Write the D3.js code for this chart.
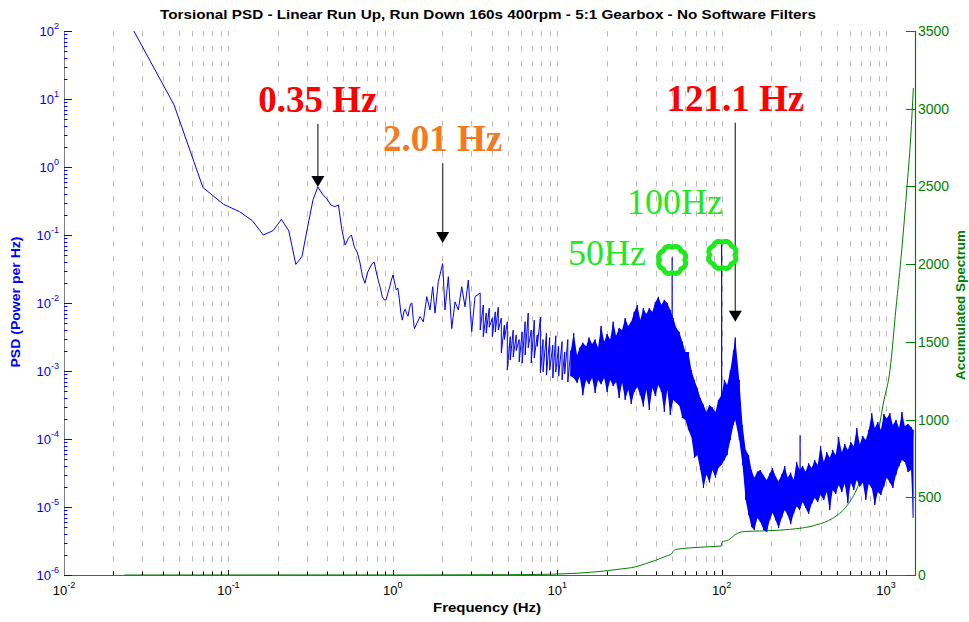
<!DOCTYPE html>
<html>
<head>
<meta charset="utf-8">
<script src="https://cdn.jsdelivr.net/npm/d3@7"></script>
<style>
  body { margin: 0; background: #fff; }
  svg { display: block; }
</style>
</head>
<body>
<svg id="chart" width="969" height="622"></svg>
<script>
// ---------------- data ----------------
// Resolved low-frequency part of the torsional PSD (Hz, power per Hz)
const lowFreq = [0.0233,0.0467,0.070,0.0933,0.117,0.140,0.163,0.187,0.210,0.233,0.257,0.280,0.303,0.327,0.350,0.373,0.397,0.420,0.443,0.467,0.490,0.513,0.537,0.560,0.583,0.607,0.630,0.653,0.677,0.700,0.723,0.747,0.770,0.793,0.817,0.840,0.863,0.887,0.910,0.933,0.957,0.980,1.003,1.027,1.050,1.073,1.097,1.120,1.143,1.167,1.190,1.213,1.237,1.260,1.283,1.307,1.330,1.353,1.377,
  1.464,1.533,1.608,1.684,1.748,1.806,1.891,2.01,2.077,2.176,2.282,2.389,2.503,2.625,2.750,2.879,3.019,3.162];
const lowPsd = [180,8.2,0.50,0.283,0.220,0.162,0.100,0.116,0.170,0.115,0.037,0.048,0.13,0.33,0.51,0.40,0.34,0.276,0.261,0.276,0.119,0.071,0.09,0.100,0.067,0.056,0.040,0.025,0.0195,0.0276,0.0327,0.0375,0.040,0.0286,0.0211,0.0166,0.0123,0.0111,0.0111,0.0140,0.0172,0.0218,0.0258,0.0195,0.0155,0.0166,0.0111,0.0071,0.0056,0.0074,0.0081,0.0070,0.0064,0.0081,0.0097,0.0100,0.0059,0.0042,0.0046,
  0.0063,0.0053,0.0124,0.0079,0.0174,0.0071,0.0206,0.038,0.0079,0.0244,0.0042,0.0104,0.0079,0.0174,0.0088,0.0218,0.0038,0.0124];

// Dense part of the spectrum: highest and lowest PSD within each narrow band
const bandFreq = [3.4,3.55,3.7,3.86,4.03,4.2,4.38,4.57,4.77,4.97,5.18,5.4,5.63,5.87,6.12,6.38,6.66,6.95,7.25,7.56,
  7.9,8.2,8.6,9.0,9.4,9.8,10.2,10.7,11.1,11.6,12.1,12.6,13.2,13.7,14.3,15.0,15.6,16.3,17.0,17.7,18.5,19.3,20.1,21.0,21.9,22.8,23.8,24.8,25.9,27.0,28.2,29.4,30.7,32.0,33.4,34.8,36.3,37.9,39.5,41.2,43.0,44.8,46.7,48.7,50.8,53.0,55.3,57.7,60.2,62.8,65.5,68.3,71.2,74.3,77.5,80.8,84.3,87.9,91.7,95.6,99.7,
  104,108,113,118,121,128,134,140,146,152,158,165,172,180,188,196,204,213,222,232,242,252,263,274,286,298,311,324,338,353,368,384,400,418,436,454,474,494,515,538,561,585,610,636,664,692,722,753,785,819,854,891,930,970,
  1010,1055,1100,1150,1200,1250,1300,1360,1420,1460];
const bandMax = [1.40e-2,9.35e-3,7.1e-3,8.4e-3,6.0e-3,7.4e-3,8.7e-3,6.0e-3,4.75e-3,5.3e-3,3.2e-3,4.0e-3,3.4e-3,2.9e-3,3.75e-3,5.3e-3,7.1e-3,4.0e-3,5.6e-3,3.4e-3,
  6.2e-3,2.9e-3,3.6e-3,3.1e-3,2.4e-3,3.3e-3,2.3e-3,2.7e-3,1.9e-3,2.9e-3,2.0e-3,3.6e-3,1.7e-3,2.2e-3,2.6e-3,2.3e-3,3.1e-3,2.5e-3,2.9e-3,2.2e-3,4.6e-3,2.7e-3,3.5e-3,2.9e-3,5.3e-3,3.3e-3,4.3e-3,4.0e-3,6.0e-3,4.6e-3,5.3e-3,7.4e-3,9.35e-3,5.6e-3,8.4e-3,6.9e-3,8.4e-3,7.4e-3,1.03e-2,1.23e-2,9.4e-3,1.11e-2,1.0e-2,7.9e-3,6.0e-3,4.3e-3,3.75e-3,2.7e-3,1.9e-3,1.9e-3,1.03e-3,7.4e-4,5.6e-4,4.0e-4,3.2e-4,2.5e-4,3.16e-4,2.9e-4,2.5e-4,3.75e-4,4.4e-4,
  7.4e-4,6.2e-4,1.03e-3,2.0e-3,3.1e-3,7.4e-4,1.6e-4,6.9e-5,5.8e-5,3.5e-5,2.7e-5,3.3e-5,3.5e-5,2.9e-5,2.5e-5,3.1e-5,3.75e-5,2.8e-5,2.4e-5,3.0e-5,4.0e-5,2.7e-5,3.2e-5,2.5e-5,4.6e-5,3.5e-5,4.0e-5,3.3e-5,4.4e-5,3.75e-5,4.9e-5,4.15e-5,7.9e-5,4.6e-5,6.4e-5,5.3e-5,6.9e-5,5.8e-5,1.07e-4,6.4e-5,8.4e-5,6.9e-5,9.0e-5,7.9e-5,1.45e-4,8.4e-5,1.1e-4,9.7e-5,1.36e-4,2.4e-4,1.45e-4,1.78e-4,1.36e-4,2.33e-4,
  2.0e-4,2.4e-4,1.6e-4,1.9e-4,1.45e-4,2.5e-4,1.55e-4,1.66e-4,1.5e-4,1.36e-4];
const bandMin = [4.0e-3,3.2e-3,3.6e-3,4.4e-3,3.2e-3,3.75e-3,4.0e-3,1.84e-3,2.9e-3,1.03e-3,1.45e-3,1.6e-3,2.0e-3,1.36e-3,1.31e-3,1.72e-3,2.2e-3,1.31e-3,1.55e-3,2.3e-3,
  9.4e-4,9.7e-4,8.7e-4,1.03e-3,7.9e-4,9.7e-4,8.4e-4,7.4e-4,9.0e-4,6.9e-4,8.4e-4,7.9e-4,6.7e-4,8.2e-4,4.4e-4,7.4e-4,6.4e-4,7.9e-4,4.75e-4,7.4e-4,6.4e-4,7.9e-4,4.9e-4,7.4e-4,6.0e-4,6.9e-4,4.0e-4,6.7e-4,3.75e-4,5.3e-4,3.27e-4,4.9e-4,5.8e-4,4.4e-4,3.0e-4,5.3e-4,2.67e-4,5.6e-4,4.3e-4,6.2e-4,4.9e-4,2.5e-4,5.3e-4,2.26e-4,3.75e-4,3.4e-4,3.1e-4,2.04e-4,1.9e-4,1.36e-4,1.07e-4,5.3e-5,5.8e-5,3.5e-5,1.9e-5,3.0e-5,2.3e-5,3.5e-5,2.7e-5,3.75e-5,4.15e-5,
  4.9e-5,5.8e-5,9.7e-5,1.6e-4,1.9e-4,9.7e-5,4.15e-5,1.27e-5,7.6e-6,5.1e-6,4.6e-6,6.9e-6,6.0e-6,4.6e-6,4.3e-6,6.4e-6,8.2e-6,6.4e-6,4.9e-6,6.9e-6,9.0e-6,7.6e-6,5.6e-6,7.9e-6,1.03e-5,9.0e-6,1.18e-5,9.7e-6,7.9e-6,1.11e-5,1.36e-5,1.18e-5,1.5e-5,1.27e-5,1.66e-5,9.0e-6,1.78e-5,1.55e-5,2.1e-5,1.66e-5,2.2e-5,1.14e-5,2.3e-5,1.78e-5,2.5e-5,2.0e-5,2.3e-5,1.27e-5,2.2e-5,1.9e-5,1.07e-5,1.66e-5,1.5e-5,2.0e-5,
  2.7e-5,2.3e-5,1.9e-5,3.0e-5,4.0e-5,4.9e-5,4.6e-5,3.27e-5,3.5e-5,6.9e-6];

// Narrow line components (mains harmonics and 300 Hz)
const spikeFreq = [50, 100, 300];
const spikePeak = [0.047, 0.076, 1.14e-4];
const spikeBase = [4.1e-4, 4.2e-5, 9.7e-6];

// Accumulated spectrum (right axis)
const accFreq = [0.0233,1.3,5,10,17.4,23.7,30,35,40,46,49.5,50.5,53,63.7,84,99.5,100.5,110,121,138,170,297,376,474,572,660,720,800,900,963,1057,1150,1246,1336,1413,1466];
const accValue = [0,0.5,2,6,21,37,53,75,96,122,135,150,165,174,182,187,212,225,260,280,283,300,322,365,439,547,654,804,933,1105,1319,1720,2091,2477,2818,3133];

// Annotated peaks
const peakFreq = [0.35, 2.01, 121.1];
const peakText = ["0.35 Hz", "2.01 Hz", "121.1 Hz"];
const peakTip = [0.51, 0.076, 0.0053];

// Circled mains components
const markFreq = [50, 101];
const markPsd = [0.043, 0.051];
const markText = ["50Hz", "100Hz"];

// Axis ticks
const xDecades = [0.01, 0.1, 1, 10, 100, 1000];
const yDecades = [1e-6, 1e-5, 1e-4, 1e-3, 1e-2, 1e-1, 1, 10, 100];
const rightTicks = [0, 500, 1000, 1500, 2000, 2500, 3000, 3500];

// ---------------- layout ----------------
const L = 64, R = 915, T = 31, B = 575;
const BLUE = "#0000ff", GREEN = "#008000";
const SANS = "'Liberation Sans', Arial, Helvetica, sans-serif";
const SERIF = "'Liberation Serif', 'Times New Roman', serif";
const FILL_FROM = 12;   // the trace is solid enough to shade from here up

const svg = d3.select("#chart");
const x = d3.scaleLog().domain([0.01, 1500]).range([L, R]);
const yL = d3.scaleLog().domain([1e-6, 1e2]).range([B, T]);
const yR = d3.scaleLinear().domain([0, 3500]).range([B, T]);

svg.append("defs").append("clipPath").attr("id", "plotArea")
  .append("rect").attr("x", L).attr("y", T).attr("width", R - L).attr("height", B - T);

const isDecade = v => Math.abs(Math.log10(v) - Math.round(Math.log10(v))) < 1e-6;
const px = v => Math.round(v) + 0.5;

// vertical dashed grid at every log tick
const xTicks = x.ticks().filter(v => v > 0.0100001 && v < 1500);
svg.append("g").selectAll("line").data(xTicks).join("line")
  .attr("x1", d => px(x(d))).attr("x2", d => px(x(d)))
  .attr("y1", T).attr("y2", B)
  .attr("stroke", "#bcbcbc").attr("stroke-width", 1)
  .attr("stroke-dasharray", "5.5,9.5");

// ---------------- series ----------------
const plot = svg.append("g").attr("clip-path", "url(#plotArea)");

// accumulated spectrum
plot.append("path")
  .attr("d", d3.line().x(d => x(d[0])).y(d => yR(d[1])).curve(d3.curveMonotoneX)(accFreq.map((f, i) => [f, accValue[i]])))
  .attr("fill", "none").attr("stroke", GREEN).attr("stroke-width", 1);

// shaded body of the dense trace
const bands = bandFreq.map((f, i) => ({ f, hi: bandMax[i], lo: bandMin[i] }));
plot.append("path")
  .attr("d", d3.area().x(d => x(d.f)).y0(d => yL(d.lo)).y1(d => yL(d.hi))(bands.filter(b => b.f >= FILL_FROM)))
  .attr("fill", BLUE).attr("stroke", "none");

// PSD trace
const trace = lowFreq.map((f, i) => [f, lowPsd[i]]);
bands.forEach(b => { trace.push([b.f, b.hi]); trace.push([b.f, b.lo]); });
plot.append("path")
  .attr("d", d3.line().x(d => x(d[0])).y(d => yL(d[1]))(trace))
  .attr("fill", "none").attr("stroke", BLUE).attr("stroke-width", 1)
  .attr("stroke-linejoin", "round");

plot.append("g").selectAll("line").data(spikeFreq).join("line")
  .attr("x1", d => x(d)).attr("x2", d => x(d))
  .attr("y1", (d, i) => yL(spikePeak[i])).attr("y2", (d, i) => yL(spikeBase[i]))
  .attr("stroke", BLUE).attr("stroke-width", 1.2);

// ---------------- axes ----------------
// bottom axis
const gx = svg.append("g");
gx.append("line").attr("x1", L).attr("x2", R).attr("y1", B + 0.5).attr("y2", B + 0.5)
  .attr("stroke", "#5a5a5a").attr("stroke-width", 1.2);
gx.selectAll("line.tk").data(xTicks).join("line").attr("class", "tk")
  .attr("x1", d => px(x(d))).attr("x2", d => px(x(d)))
  .attr("y1", B).attr("y2", d => B - (isDecade(d) ? 5 : 3.5))
  .attr("stroke", "#000").attr("stroke-width", 1);
xDecades.forEach(v => {
  const t = gx.append("text").attr("x", x(v)).attr("y", B + 20)
    .attr("text-anchor", "middle").attr("fill", "#000")
    .style("font-family", SANS).style("font-size", "13px");
  t.append("tspan").text("10");
  t.append("tspan").attr("dy", -7).style("font-size", "9px").text(String(Math.round(Math.log10(v))));
});
svg.append("text").attr("x", 487).attr("y", 612).attr("text-anchor", "middle")
  .attr("textLength", 108).attr("lengthAdjust", "spacingAndGlyphs")
  .style("font-family", SANS).style("font-size", "13.5px").style("font-weight", "bold")
  .text("Frequency (Hz)");

// left axis
const gy = svg.append("g");
gy.append("line").attr("x1", L + 0.5).attr("x2", L + 0.5).attr("y1", T).attr("y2", B + 1)
  .attr("stroke", "#7a7a9a").attr("stroke-width", 1);
const yTicks = yL.ticks().filter(v => v >= 1e-6 * 0.999 && v <= 100.001);
gy.selectAll("line.tk").data(yTicks).join("line").attr("class", "tk")
  .attr("x1", L).attr("x2", d => L + (isDecade(d) ? 8 : 3.5))
  .attr("y1", d => px(yL(d))).attr("y2", d => px(yL(d)))
  .attr("stroke", BLUE).attr("stroke-width", 1);
yDecades.forEach(v => {
  const t = gy.append("text").attr("x", 59).attr("y", yL(v) + 4.5)
    .attr("text-anchor", "end").attr("fill", BLUE)
    .style("font-family", SANS).style("font-size", "13px");
  t.append("tspan").text("10");
  t.append("tspan").attr("dy", -7).style("font-size", "9px").text(String(Math.round(Math.log10(v))));
});
svg.append("text").attr("transform", "translate(20,302) rotate(-90)")
  .attr("text-anchor", "middle").attr("fill", BLUE)
  .attr("textLength", 131).attr("lengthAdjust", "spacingAndGlyphs")
  .style("font-family", SANS).style("font-size", "13px").style("font-weight", "bold")
  .text("PSD (Power per Hz)");

// right axis
const gr = svg.append("g");
gr.append("line").attr("x1", R + 0.5).attr("x2", R + 0.5).attr("y1", T).attr("y2", B + 1)
  .attr("stroke", GREEN).attr("stroke-width", 1.2);
gr.selectAll("line.tk").data(rightTicks).join("line").attr("class", "tk")
  .attr("x1", R).attr("x2", R - 9)
  .attr("y1", d => px(yR(d))).attr("y2", d => px(yR(d)))
  .attr("stroke", GREEN).attr("stroke-width", 1);
gr.selectAll("text").data(rightTicks).join("text")
  .attr("x", R + 3).attr("y", d => yR(d) + 5)
  .attr("fill", GREEN).style("font-family", SANS).style("font-size", "14px")
  .text(d => d);
svg.append("text").attr("transform", "translate(965,305) rotate(-90)")
  .attr("text-anchor", "middle").attr("fill", GREEN)
  .attr("textLength", 150).attr("lengthAdjust", "spacingAndGlyphs")
  .style("font-family", SANS).style("font-size", "13px").style("font-weight", "bold")
  .text("Accumulated Spectrum");

// title
svg.append("text").attr("x", 488).attr("y", 19).attr("text-anchor", "middle")
  .attr("textLength", 656).attr("lengthAdjust", "spacingAndGlyphs")
  .style("font-family", SANS).style("font-size", "13px").style("font-weight", "bold")
  .text("Torsional PSD - Linear Run Up, Run Down 160s 400rpm - 5:1 Gearbox - No Software Filters");

// ---------------- annotations ----------------
const peakColor = ["#ff0000", "#f27a22", "#ff0000"];
const arrowLen = [63, 80, 199];
const ann = svg.append("g");
peakFreq.forEach((f, i) => {
  const ax = x(f), tip = yL(peakTip[i]), top = tip - arrowLen[i];
  ann.append("line").attr("x1", ax).attr("x2", ax).attr("y1", top).attr("y2", tip - 10)
    .attr("stroke", "#4a4a4a").attr("stroke-width", 1.4);
  ann.append("path")
    .attr("d", `M${ax - 6.5},${tip - 11}L${ax + 6.5},${tip - 11}L${ax},${tip}Z`)
    .attr("fill", "#000");
  ann.append("text").attr("x", ax).attr("y", top - 12).attr("text-anchor", "middle")
    .attr("fill", peakColor[i])
    .style("font-family", SERIF).style("font-size", "37px").style("font-weight", "bold")
    .text(peakText[i]);
});

// cloud-shaped rings round the mains lines: rounded lobes with inward cusps
const ringPts = d3.range(96).map(k => {
  const a = k / 96 * 2 * Math.PI;
  return [a, 12.6 + 1.6 * Math.abs(Math.sin(4 * a))];
});
const ring = d3.lineRadial().angle(d => d[0]).radius(d => d[1]).curve(d3.curveLinearClosed);
const MARK = "#1ee81e";
markFreq.forEach((f, i) => {
  ann.append("path").attr("transform", `translate(${x(f)},${yL(markPsd[i])})`)
    .attr("d", ring(ringPts)).attr("fill", "none")
    .attr("stroke", MARK).attr("stroke-width", 5).attr("stroke-linejoin", "round");
});
ann.append("text").attr("x", 646).attr("y", 265).attr("text-anchor", "end")
  .attr("fill", MARK).style("font-family", SERIF).style("font-size", "36px")
  .text(markText[0]);
ann.append("text").attr("x", 675).attr("y", 214).attr("text-anchor", "middle")
  .attr("fill", MARK).style("font-family", SERIF).style("font-size", "36px")
  .text(markText[1]);
</script>
</body>
</html>
